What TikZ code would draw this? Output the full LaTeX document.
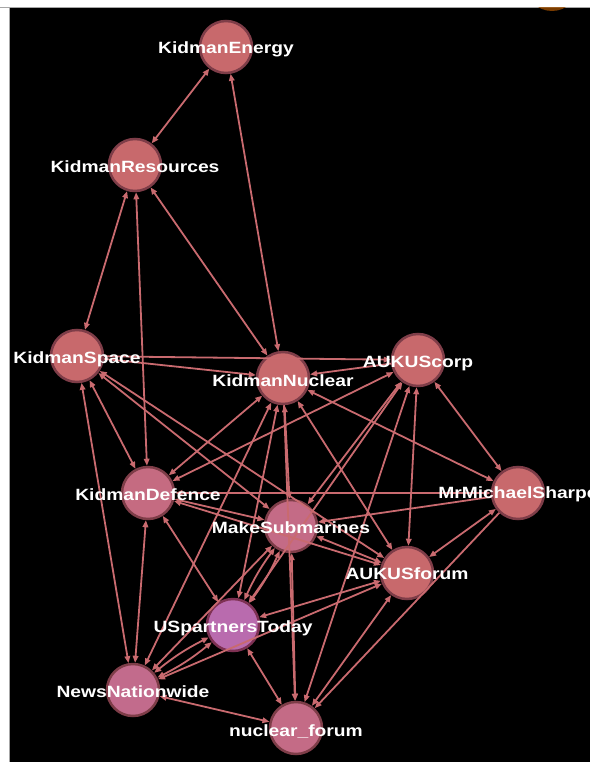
\documentclass[tikz,border=0pt]{standalone}
\usepackage{fontspec}
\usepackage{tikz}
\usetikzlibrary{arrows.meta}
\newfontfamily\lblfont[FakeStretch=1.18]{Liberation Sans}
\definecolor{salmon}{HTML}{C8696C}
\definecolor{rose}{HTML}{C46B86}
\definecolor{lilac}{HTML}{B96BAE}
\definecolor{rim}{HTML}{7E3D48}
\definecolor{linkc}{HTML}{C96A6F}
\tikzset{>={Triangle[length=7pt,width=5.5pt]}}
\tikzset{actor/.style={shape=circle, draw=rim, line width=2.5pt, fill=salmon,
    inner sep=0pt, minimum size=52pt}}
\tikzset{tag/.style={text=white, inner sep=0pt,
    font=\lblfont\bfseries\fontsize{16.3}{18}\selectfont}}
\tikzset{link/.style={<->, draw=linkc, line width=1.8pt}}
\tikzset{lone/.style={->, draw=linkc, line width=1.8pt}}

\begin{document}
\begin{tikzpicture}[x=1pt, y=-1pt]
  \useasboundingbox (0,0) rectangle (590,762);
  \fill[white] (0,0) rectangle (590,762);
  \fill[black] (10,8) rectangle (590,762);
  \draw[black!35, line width=1pt] (0,7.5) -- (590,7.5);
  \draw[black!35, line width=1pt] (9.5,8) -- (9.5,762);
  \begin{scope}
    \clip (10,8) rectangle (590,762);
    \fill[orange!60!black, opacity=.8] (552,-16) circle (27);
  \end{scope}
  %%%%% actors
  \node[actor] (ke) at (226,47) {};
  \node[actor] (kr) at (135,165) {};
  \node[actor] (ks) at (77,356) {};
  \node[actor] (kn) at (283,378) {};
  \node[actor] (ac) at (418,360) {};
  \node[actor, fill=rose!80!salmon] (kd) at (148,493) {};
  \node[actor] (mm) at (518,493) {};
  \node[actor, fill=rose] (ms) at (291,526) {};
  \node[actor] (af) at (407,573) {};
  \node[actor, fill=lilac, draw=rim!80!violet] (ut) at (233,625) {};
  \node[actor, fill=rose!85!lilac] (nn) at (133,690) {};
  \node[actor, fill=rose] (nf) at (296,728) {};
  %%%%% links
  \path (ke) edge[link] (kr);
  \path (ke) edge[link] (kn);
  \path (kr) edge[link] (ks);
  \path (kr) edge[link] (kd);
  \path (kr) edge[link] (kn);
  \path (ks) edge[lone] (ac);
  \path (ks) edge[lone] (kn);
  \path (ks) edge[link] (kd);
  \path (ks) edge[link] (ms);
  \path (ks) edge[link] (af);
  \path (ks) edge[link] (nn);
  \path (ac) edge[lone] (kn);
  \path (kn) edge[link] (kd);
  \path (kn) edge[link] (ms);
  \path (kn) edge[link] (ut);
  \path (kn) edge[link] (nn);
  \path (kn) edge[link] (af);
  \path (kn) edge[link] (mm);
  \path (kn) edge[lone] (nf);
  \path (ac) edge[link] (kd);
  \path (ac) edge[link] (ms);
  \path (ac) edge[link] (ut);
  \path (ac) edge[link] (af);
  \path (ac) edge[link] (nf);
  \path (ac) edge[link] (mm);
  \path (kd) edge[link] (mm);
  \path (mm) edge[lone] (ms);
  \path (mm) edge[link] (af);
  \path (mm) edge[lone] (nf);
  \path (kd) edge[link] (ms);
  \path (kd) edge[link] (af);
  \path (kd) edge[link] (ut);
  \path (kd) edge[link] (nn);
  \path (ms) edge[link, bend left=6] (ut);
  \path (ms) edge[link, bend right=6] (ut);
  \path (ms) edge[link] (nn);
  \path (ms) edge[link] (nf);
  \path (ms) edge[link] (af);
  \path (af) edge[link] (ut);
  \path (af) edge[link] (nf);
  \path (af) edge[link] (nn);
  \path (ut) edge[link, bend left=6] (nn);
  \path (ut) edge[link, bend right=6] (nn);
  \path (ut) edge[link] (nf);
  \path (nn) edge[link] (nf);
  %%%%% names
  \node[tag] (ke-l) at ([yshift=-2]ke) {KidmanEnergy};
  \node[tag] (kr-l) at ([yshift=-2]kr) {KidmanResources};
  \node[tag] (ks-l) at ([yshift=-3]ks) {KidmanSpace};
  \node[tag] (kn-l) at ([yshift=-3]kn) {KidmanNuclear};
  \node[tag] (ac-l) at ([yshift=-3]ac) {AUKUScorp};
  \node[tag] (kd-l) at ([yshift=-2]kd) {KidmanDefence};
  \node[tag] (mm-l) at ([yshift=-1]mm) {MrMichaelSharpe};
  \node[tag] (ms-l) at ([yshift=-2]ms) {MakeSubmarines};
  \node[tag] (af-l) at ([yshift=-1]af) {AUKUSforum};
  \node[tag] (ut-l) at ([yshift=-3]ut) {USpartnersToday};
  \node[tag] (nn-l) at ([yshift=-2]nn) {NewsNationwide};
  \node[tag] (nf-l) at ([yshift=-4]nf) {nuclear\_forum};
\end{tikzpicture}
\end{document}
